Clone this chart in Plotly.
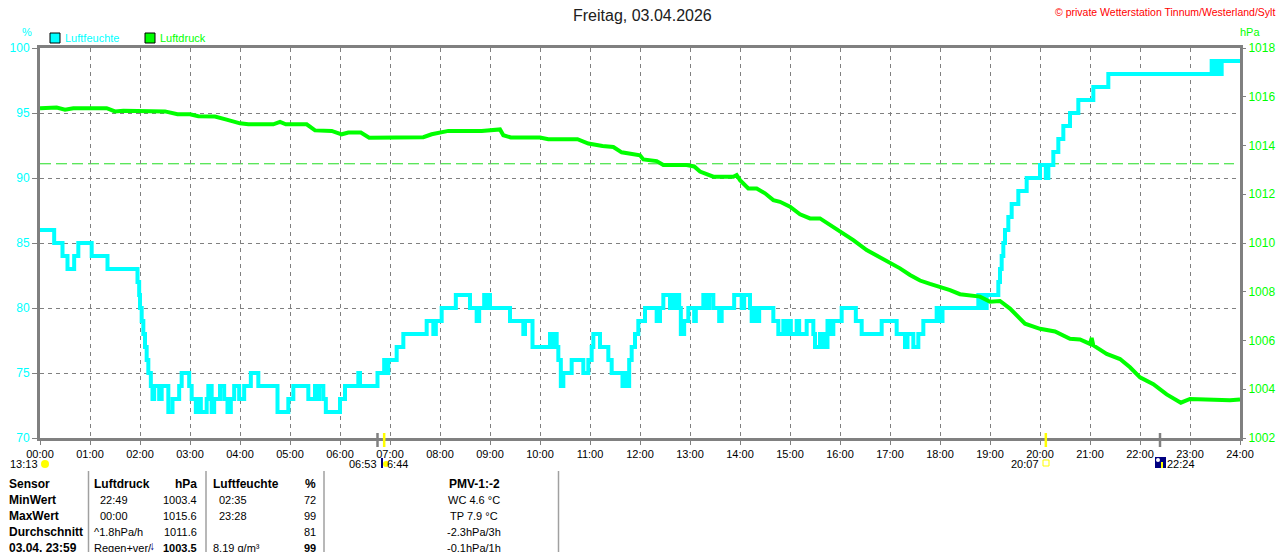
import plotly.graph_objects as go

# humidity (%), change points of the step line
hum_times = ["00:00", "00:17", "00:27", "00:33", "00:41", "00:46", "01:02", "01:21",
             "01:57", "01:59", "02:00", "02:02", "02:04", "02:06", "02:08", "02:10", "02:13",
             "02:15", "02:17", "02:23", "02:26", "02:34", "02:39", "02:47", "02:50", "02:59",
             "03:02", "03:07", "03:10", "03:13", "03:20", "03:22", "03:26", "03:29", "03:36",
             "03:41", "03:45", "03:49", "03:53", "03:59", "04:05", "04:13", "04:22", "04:45",
             "04:58", "05:04", "05:22", "05:30", "05:33", "05:35", "05:40", "05:43", "06:00",
             "06:06", "06:22", "06:24", "06:45", "06:53", "06:56", "06:58", "07:08", "07:16",
             "07:44", "07:52", "07:55", "08:02", "08:19", "08:36", "08:44", "08:47", "08:53",
             "08:55", "08:57", "09:00", "09:24", "09:40", "09:42", "09:51", "10:12", "10:15",
             "10:17", "10:20", "10:22", "10:25", "10:28", "10:38", "10:52", "10:58", "11:02",
             "11:04", "11:12", "11:22", "11:26", "11:39", "11:43", "11:45", "11:47", "11:50",
             "11:54", "11:58", "12:06", "12:20", "12:24", "12:28", "12:36", "12:39", "12:42",
             "12:44", "12:47", "12:49", "12:53", "12:58", "13:05", "13:07", "13:16", "13:20",
             "13:23", "13:28", "13:35", "13:38", "13:53", "14:02", "14:05", "14:12", "14:14",
             "14:18", "14:20", "14:23", "14:40", "14:46", "14:52", "14:54", "14:58", "15:01",
             "15:08", "15:11", "15:20", "15:28", "15:30", "15:36", "15:38", "15:41", "15:43",
             "15:45", "15:48", "15:52", "16:02", "16:19", "16:26", "16:50", "17:08", "17:18",
             "17:21", "17:28", "17:34", "17:40", "17:56", "18:00", "18:03", "18:46", "18:48",
             "18:50", "18:53", "18:56", "19:10", "19:12", "19:14", "19:16", "19:18", "19:22",
             "19:26", "19:34", "19:44", "20:00", "20:07", "20:10", "20:16", "20:22", "20:28",
             "20:36", "20:46", "21:04", "21:22", "23:26", "23:29", "23:31", "23:34", "23:38",
             "24:00"]
hum_values = [86, 85, 84, 83, 84, 85, 84, 83,
              82, 81, 80, 79, 78, 77, 76, 75, 74,
              73, 74, 73, 74, 72, 73, 74, 75, 74,
              73, 72, 73, 72, 73, 74, 72, 73, 74,
              73, 72, 73, 74, 73, 74, 75, 74, 72,
              73, 74, 73, 74, 73, 74, 73, 72, 73,
              74, 75, 74, 75, 76, 75, 76, 77, 78,
              79, 78, 79, 80, 81, 80, 79, 80, 81,
              80, 81, 80, 79, 78, 79, 77, 78, 77,
              78, 77, 76, 74, 75, 76, 75, 76, 77,
              78, 77, 76, 75, 74, 75, 74, 76, 77,
              78, 79, 80, 79, 80, 81, 80, 81, 80,
              81, 80, 78, 79, 80, 79, 80, 81, 80,
              81, 80, 79, 80, 81, 80, 81, 80, 79,
              80, 79, 80, 79, 78, 79, 78, 79, 78,
              79, 78, 79, 78, 77, 78, 77, 78, 77,
              79, 78, 79, 80, 79, 78, 79, 78, 77,
              78, 77, 78, 79, 80, 79, 80, 81, 80,
              81, 80, 81, 82, 83, 84, 85, 86, 87,
              88, 89, 90, 91, 90, 91, 92, 93, 94,
              95, 96, 97, 98, 99, 98, 99, 98, 99,
              99]

# air pressure (hPa)
press_times = ["00:00", "00:20", "00:30", "00:40", "01:20", "01:30", "01:40", "02:30", "02:45",
               "03:00", "03:10", "03:30", "03:45", "04:00", "04:10", "04:40", "04:48", "04:55",
               "05:20", "05:30", "05:50", "06:02", "06:10", "06:25", "06:35", "07:40", "07:50",
               "08:10", "08:50", "09:05", "09:12", "09:16", "09:25", "10:00", "10:10", "10:45",
               "10:58", "11:15", "11:28", "11:38", "12:00", "12:04", "12:20", "12:28", "12:56",
               "13:05", "13:12", "13:28", "13:52", "13:56", "14:00", "14:10", "14:20", "14:30",
               "14:40", "14:48", "15:00", "15:12", "15:24", "15:36", "15:48", "16:00", "16:16",
               "16:32", "16:48", "17:00", "17:12", "17:24", "17:36", "17:48", "18:00", "18:12",
               "18:24", "18:36", "18:48", "19:00", "19:12", "19:24", "19:42", "20:00", "20:18",
               "20:36", "20:48", "21:00", "21:02", "21:04", "21:20", "21:36", "21:48", "22:00",
               "22:16", "22:32", "22:49", "23:00", "23:24", "23:48", "24:00"]
press_values = [1015.53, 1015.56, 1015.47, 1015.53, 1015.53, 1015.40, 1015.43, 1015.40, 1015.28,
                1015.28, 1015.20, 1015.19, 1015.05, 1014.91, 1014.87, 1014.87, 1014.97, 1014.87,
                1014.87, 1014.62, 1014.60, 1014.46, 1014.53, 1014.53, 1014.32, 1014.34, 1014.46,
                1014.60, 1014.60, 1014.66, 1014.66, 1014.42, 1014.33, 1014.33, 1014.26, 1014.26,
                1014.08, 1013.98, 1013.94, 1013.72, 1013.60, 1013.43, 1013.36, 1013.20, 1013.20,
                1013.14, 1012.93, 1012.72, 1012.72, 1012.79, 1012.58, 1012.24, 1012.24, 1012.04,
                1011.76, 1011.69, 1011.49, 1011.18, 1011.01, 1011.01, 1010.74, 1010.46, 1010.12,
                1009.71, 1009.41, 1009.23, 1008.96, 1008.69, 1008.46, 1008.32, 1008.21, 1008.07,
                1007.90, 1007.84, 1007.80, 1007.59, 1007.62, 1007.31, 1006.69, 1006.48, 1006.37,
                1006.07, 1006.04, 1005.86, 1006.10, 1005.80, 1005.45, 1005.24, 1004.90, 1004.49,
                1004.21, 1003.79, 1003.45, 1003.60, 1003.57, 1003.55, 1003.58]

ref_pressure = 1013.25

x_ticks = ["00:00", "01:00", "02:00", "03:00", "04:00", "05:00", "06:00", "07:00", "08:00",
           "09:00", "10:00", "11:00", "12:00", "13:00", "14:00", "15:00", "16:00", "17:00",
           "18:00", "19:00", "20:00", "21:00", "22:00", "23:00", "24:00"]
hum_ticks = [70, 75, 80, 85, 90, 95, 100]
press_ticks = [1002, 1004, 1006, 1008, 1010, 1012, 1014, 1016, 1018]

# sun / moon events drawn on the time axis
sun_events = ["06:53", "20:07"]
moon_events = ["06:45", "22:24"]

# statistics table
table_rows = [
    ["<b>Sensor</b>", "<b>Luftdruck</b>", "<b>hPa</b>", "<b>Luftfeuchte</b>", "<b>%</b>", "<b>PMV-1:-2</b>"],
    ["<b>MinWert</b>", "22:49", "1003.4", "02:35", "72", "WC 4.6 °C"],
    ["<b>MaxWert</b>", "00:00", "1015.6", "23:28", "99", "TP 7.9 °C"],
    ["<b>Durchschnitt</b>", "^1.8hPa/h", "1011.6", "", "81", "-2.3hPa/3h"],
    ["<b>03.04. 23:59</b>", "Regen+ver/", "<b>1003.5</b>", "8.19 g/m³", "<b>99</b>", "-0.1hPa/1h"],
]


def hours(t):
    h, m = t.split(":")
    return int(h) + int(m) / 60


# pixel -> paper helpers for decoration (plot area spans 40..1240 x 48..438)
def xp(px):
    return (px - 40) / 1200


def yp(py):
    return (438 - py) / 390


CYAN = "#00FFFF"
GREEN = "#00FF00"
GRAY = "#808080"
FONT = "Liberation Sans"

fig = go.Figure()

fig.add_trace(go.Scatter(
    x=[hours(t) for t in press_times], y=press_values, yaxis="y2",
    mode="lines", line=dict(color=GREEN, width=4), hoverinfo="skip"))

fig.add_trace(go.Scatter(
    x=[hours(t) for t in hum_times], y=hum_values,
    mode="lines", line=dict(color=CYAN, width=4, shape="hv"), hoverinfo="skip"))

shapes = []
# 1013.25 hPa reference line
shapes.append(dict(type="line", xref="paper", x0=0, x1=0.995, yref="y2", y0=ref_pressure, y1=ref_pressure,
                   line=dict(color="#22DD22", width=1, dash="11px,5px"), layer="below"))

# sun / moon markers on the axis
for t in sun_events:
    shapes.append(dict(type="line", xref="x", x0=hours(t), x1=hours(t), yref="paper",
                       y0=yp(447), y1=yp(433), line=dict(color="#FFFF00", width=2.5)))
for t in moon_events:
    shapes.append(dict(type="line", xref="x", x0=hours(t), x1=hours(t), yref="paper",
                       y0=yp(447), y1=yp(433), line=dict(color=GRAY, width=2.5)))

# legend boxes
shapes.append(dict(type="rect", xref="paper", yref="paper", x0=xp(50), x1=xp(60), y0=yp(43), y1=yp(33),
                   fillcolor=CYAN, line=dict(color="black", width=1)))
shapes.append(dict(type="rect", xref="paper", yref="paper", x0=xp(145), x1=xp(155), y0=yp(43), y1=yp(33),
                   fillcolor=GREEN, line=dict(color="black", width=1)))

# little icons below the axis
shapes.append(dict(type="circle", xref="paper", yref="paper", x0=xp(41), x1=xp(49), y0=yp(468), y1=yp(460),
                   fillcolor="#FFFF00", line=dict(width=0)))
shapes.append(dict(type="rect", xref="paper", yref="paper", x0=xp(381), x1=xp(383), y0=yp(468), y1=yp(458),
                   fillcolor="#000080", line=dict(width=0)))
shapes.append(dict(type="circle", xref="paper", yref="paper", x0=xp(383), x1=xp(389), y0=yp(467), y1=yp(461),
                   fillcolor="#FFFF00", line=dict(width=0)))
shapes.append(dict(type="rect", xref="paper", yref="paper", x0=xp(1043), x1=xp(1049), y0=yp(466), y1=yp(460),
                   fillcolor="white", line=dict(color="#FFFF00", width=1)))
shapes.append(dict(type="rect", xref="paper", yref="paper", x0=xp(1155), x1=xp(1166), y0=yp(468), y1=yp(457),
                   fillcolor="#000080", line=dict(width=0)))
shapes.append(dict(type="circle", xref="paper", yref="paper", x0=xp(1156), x1=xp(1160), y0=yp(462), y1=yp(458),
                   fillcolor="white", line=dict(width=0)))
shapes.append(dict(type="rect", xref="paper", yref="paper", x0=xp(1161), x1=xp(1163), y0=yp(468), y1=yp(462),
                   fillcolor="#FFFF00", line=dict(width=0)))

# table separators
for sx in [88.5, 206, 324, 558.5]:
    shapes.append(dict(type="line", xref="paper", yref="paper", x0=xp(sx), x1=xp(sx), y0=yp(560), y1=yp(471),
                       line=dict(color="#A0A0A0", width=1.5)))

ann = []


def label(text, px, py, color="black", size=11, anchor="left"):
    ann.append(dict(text=text, xref="paper", yref="paper", x=xp(px), y=yp(py), xanchor=anchor,
                    yanchor="middle", showarrow=False, font=dict(family=FONT, size=size, color=color)))


label("Freitag, 03.04.2026", 642, 15, color="#202020", size=16, anchor="center")
label("© private Wetterstation Tinnum/Westerland/Sylt", 1277, 12, color="#FF0000", size=10.5, anchor="right")
label("Luftfeuchte", 63, 38, color=CYAN, size=11)
label("Luftdruck", 158, 38, color=GREEN, size=11)
label("%", 27, 32, color=CYAN, size=11, anchor="center")
label("hPa", 1250, 32, color=GREEN, size=11, anchor="center")

label("13:13", 8, 464)
label("06:53", 379, 464, anchor="right")
label("6:44", 385, 464)
label("20:07", 1041, 464, anchor="right")
label("22:24", 1165, 464)

row_y = [484, 500, 516, 532, 548]
for i, row in enumerate(table_rows):
    y = row_y[i]
    sz = 12 if i == 0 else 11
    label(row[0], 7, y, size=12)
    if i == 0 or i == 3 or i == 4:
        label(row[1], 92, y, size=sz)
    else:
        label(row[1], 114, y, size=sz, anchor="center")
    label(row[2], 199, y, size=sz, anchor="right")
    if i == 0 or i == 4:
        label(row[3], 211, y, size=sz)
    else:
        label(row[3], 233, y, size=sz, anchor="center")
    label(row[4], 318, y, size=sz, anchor="right")
    label(row[5], 474, y, size=sz, anchor="center")
label("↓", 152, 546, color="#000080", size=12, anchor="center")

fig.update_layout(
    width=1280, height=552,
    margin=dict(l=40, r=40, t=48, b=114),
    paper_bgcolor="white", plot_bgcolor="white",
    showlegend=False,
    font=dict(family=FONT, size=11, color="black"),
    xaxis=dict(range=[0, 24], tickvals=list(range(25)), ticktext=x_ticks, automargin=False,
               showline=True, linecolor=GRAY, linewidth=3, mirror=True,
               showgrid=True, gridcolor=GRAY, gridwidth=1, griddash="4px,4px",
               ticks="outside", ticklen=4, tickcolor=GRAY, tickwidth=1,
               tickfont=dict(family=FONT, size=11, color="black"), zeroline=False),
    yaxis=dict(range=[70, 100], tickvals=hum_ticks, automargin=False,
               showline=True, linecolor=GRAY, linewidth=3, mirror=True,
               showgrid=True, gridcolor=GRAY, gridwidth=1, griddash="4px,4px",
               ticks="outside", ticklen=5, tickcolor=GRAY, tickwidth=1,
               tickfont=dict(family=FONT, size=12, color=CYAN), zeroline=False),
    yaxis2=dict(range=[1002, 1018], tickvals=press_ticks, overlaying="y", side="right", automargin=False,
                showline=False, showgrid=False, zeroline=False,
                ticks="outside", ticklen=5, tickcolor=GRAY, tickwidth=1,
                tickfont=dict(family=FONT, size=12, color=GREEN)),
    shapes=shapes,
    annotations=ann,
)

# drop the browser's default page margin so the figure sits at the window's corner
fig.write_html("out.html", config={"displayModeBar": False},
               post_script="document.body.style.margin='0';document.body.style.overflow='hidden';")
